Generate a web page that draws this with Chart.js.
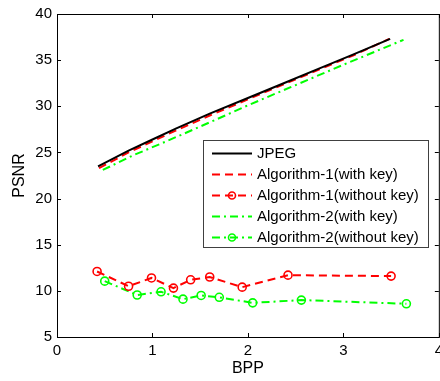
<!DOCTYPE html>
<html>
<head>
<meta charset="utf-8">
<script src="https://cdn.jsdelivr.net/npm/chart.js@4"></script>
<style>
  html, body { margin: 0; padding: 0; background: #fff; overflow: hidden; }
  #wrap { width: 448px; height: 381px; }
</style>
</head>
<body>
<div id="wrap"><canvas id="psnrChart"></canvas></div>
<script>
// values
const jpegX = [0.43, 0.75, 1.0, 1.25, 1.6, 2.0, 2.4, 2.75, 3.1, 3.49];
const jpegY = [23.5, 25.2, 26.4, 27.6, 29.2, 30.9, 32.6, 34.1, 35.6, 37.3];

const alg1KeyX = [0.44, 0.75, 1.0, 1.25, 1.6, 2.0, 2.4, 2.75, 3.1, 3.48];
const alg1KeyY = [23.3, 25.0, 26.2, 27.4, 29.0, 30.75, 32.5, 34.0, 35.5, 37.3];

const alg1NoKeyX = [0.42, 0.75, 0.99, 1.22, 1.40, 1.60, 1.94, 2.42, 3.50];
const alg1NoKeyY = [12.1, 10.5, 11.4, 10.3, 11.2, 11.5, 10.4, 11.7, 11.6];

const alg2KeyX = [0.48, 0.8, 1.1, 1.5, 2.0, 2.5, 3.0, 3.63];
const alg2KeyY = [23.1, 24.7, 26.0, 27.8, 30.1, 32.3, 34.5, 37.2];

const alg2NoKeyX = [0.50, 0.84, 1.09, 1.32, 1.51, 1.70, 2.05, 2.56, 3.66];
const alg2NoKeyY = [11.05, 9.55, 9.9, 9.1, 9.5, 9.3, 8.7, 9.0, 8.6];

const xTicks = [0, 1, 2, 3, 4];
const yTicks = [5, 10, 15, 20, 25, 30, 35, 40];

const FONT = "'Liberation Sans', Arial, sans-serif";
const RED = "#ff0000";
const GREEN = "#00ff00";

const pts = (xs, ys) => xs.map((x, i) => ({ x, y: ys[i] }));

function series(label, xs, ys, color, dash, marker) {
  return {
    label,
    data: pts(xs, ys),
    borderColor: color,
    backgroundColor: "rgba(0,0,0,0)",
    borderWidth: 2,
    borderDash: dash,
    pointRadius: marker ? 4 : 0,
    pointBorderWidth: 1.6,
    pointBorderColor: color,
    pointBackgroundColor: "rgba(0,0,0,0)",
    tension: 0,
  };
}

// box + inward ticks like the matlab axes
const boxPlugin = {
  id: "box",
  afterDatasetsDraw(chart) {
    const { ctx, chartArea: a, scales } = chart;
    ctx.save();
    ctx.strokeStyle = "#000";
    ctx.lineWidth = 1;
    ctx.strokeRect(a.left + 0.5, a.top + 0.5, a.right - a.left, a.bottom - a.top);
    ctx.beginPath();
    xTicks.forEach((v) => {
      const px = Math.round(scales.x.getPixelForValue(v)) + 0.5;
      ctx.moveTo(px, a.bottom); ctx.lineTo(px, a.bottom - 4);
      ctx.moveTo(px, a.top); ctx.lineTo(px, a.top + 4);
    });
    yTicks.forEach((v) => {
      const py = Math.round(scales.y.getPixelForValue(v)) + 0.5;
      ctx.moveTo(a.left, py); ctx.lineTo(a.left + 4, py);
      ctx.moveTo(a.right, py); ctx.lineTo(a.right - 4, py);
    });
    ctx.stroke();
    ctx.restore();
  },
};

// legend drawn inside the plot
const boxLegend = {
  id: "boxLegend",
  afterDraw(chart) {
    const { ctx } = chart;
    const left = 203, top = 140, w = 225, h = 107;
    ctx.save();
    ctx.fillStyle = "#fff";
    ctx.fillRect(left, top, w, h);
    ctx.strokeStyle = "#404040";
    ctx.lineWidth = 1;
    ctx.strokeRect(left + 0.5, top + 0.5, w, h);
    ctx.font = "15px " + FONT;
    ctx.textBaseline = "middle";
    chart.data.datasets.forEach((ds, i) => {
      const y = Math.round(153.3 + i * 20.8) + 0.5;
      ctx.strokeStyle = ds.borderColor;
      ctx.lineWidth = 2;
      ctx.setLineDash(ds.borderDash || []);
      ctx.beginPath();
      ctx.moveTo(212, y); ctx.lineTo(252, y);
      ctx.stroke();
      ctx.setLineDash([]);
      if (ds.pointRadius) {
        ctx.lineWidth = 1.6;
        ctx.beginPath();
        ctx.arc(232, y, 3.5, 0, Math.PI * 2);
        ctx.stroke();
      }
      ctx.fillStyle = "#000";
      ctx.fillText(ds.label, 257, y);
    });
    ctx.restore();
  },
};

new Chart(document.getElementById("psnrChart"), {
  type: "line",
  data: {
    datasets: [
      series("JPEG", jpegX, jpegY, "#000000", [], false),
      series("Algorithm-1(with key)", alg1KeyX, alg1KeyY, RED, [8, 5], false),
      series("Algorithm-1(without key)", alg1NoKeyX, alg1NoKeyY, RED, [8, 5], true),
      series("Algorithm-2(with key)", alg2KeyX, alg2KeyY, GREEN, [8, 4, 2, 4], false),
      series("Algorithm-2(without key)", alg2NoKeyX, alg2NoKeyY, GREEN, [8, 4, 2, 4], true),
    ],
  },
  options: {
    responsive: true,
    maintainAspectRatio: false,
    animation: false,
    layout: { padding: { top: 13, right: 7, left: 0, bottom: 0 } },
    plugins: {
      legend: { display: false },
      tooltip: { enabled: false },
    },
    scales: {
      x: {
        type: "linear",
        min: 0,
        max: 4,
        afterFit: (s) => { s.height = 44; },
        afterBuildTicks: (s) => { s.ticks = xTicks.map((v) => ({ value: v })); },
        grid: { display: false, drawTicks: false },
        border: { display: false },
        ticks: { color: "#000", padding: 5, font: { family: FONT, size: 15 } },
        title: {
          display: true,
          text: "BPP",
          color: "#000",
          padding: { top: 0, bottom: 3 },
          font: { family: FONT, size: 16 },
        },
      },
      y: {
        min: 5,
        max: 40,
        afterFit: (s) => { s.width = 57; },
        afterBuildTicks: (s) => { s.ticks = yTicks.map((v) => ({ value: v })); },
        grid: { display: false, drawTicks: false },
        border: { display: false },
        ticks: { color: "#000", padding: 5, font: { family: FONT, size: 15 } },
        title: {
          display: true,
          text: "PSNR",
          color: "#000",
          padding: { top: 10, bottom: 0 },
          font: { family: FONT, size: 16 },
        },
      },
    },
  },
  plugins: [boxPlugin, boxLegend],
});
</script>
</body>
</html>
